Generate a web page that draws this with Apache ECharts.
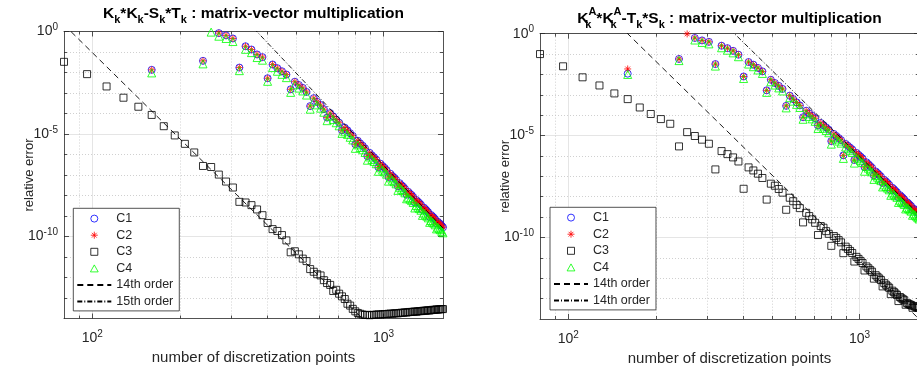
<!DOCTYPE html>
<html><head><meta charset="utf-8">
<script src="https://cdn.jsdelivr.net/npm/echarts@6/dist/echarts.min.js"></script>
<style>html,body{margin:0;padding:0;background:#fff}#c{width:917px;height:369px}</style>
</head><body><div id="c"></div>
<script>
// number of discretization points
const N = [80,96,112,128,144,160,176,192,208,224,240,256,272,288,304,320,336,352,368,384,400,416,432,448,464,480,496,512,528,544,560,576,592,608,624,640,656,672,688,704,720,736,752,768,784,800,816,832,848,864,880,896,912,928,944,960,976,992,1008,1024,1040,1056,1072,1088,1104,1120,1136,1152,1168,1184,1200,1216,1232,1248,1264,1280,1296,1312,1328,1344,1360,1376,1392,1408,1424,1440,1456,1472,1488,1504,1520,1536,1552,1568,1584,1600];

// values are log10(relative error)
const leftC1 = [null,null,null,null,null,-1.87,null,null,null,null,
 -1.43,null,-0.08,-0.19,-0.34,-1.76,-0.72,-0.88,-1.12,-1.25,
 -2.28,-1.61,-1.79,-1.94,-2.10,-2.82,-2.45,-2.61,-2.75,-2.95,
 -3.64,-3.25,-3.43,-3.59,-3.79,-4.20,-3.98,-4.14,-4.30,-4.45,
 -4.82,-4.69,-4.82,-4.96,-5.09,-5.50,-5.33,-5.46,-5.57,-5.70,
 -6.08,-5.92,-6.04,-6.14,-6.25,-6.62,-6.45,-6.56,-6.65,-6.76,
 -7.10,-6.94,-7.05,-7.13,-7.23,-7.55,-7.40,-7.50,-7.57,-7.67,
 -7.96,-7.82,-7.91,-7.98,-8.07,-8.34,-8.22,-8.30,-8.37,-8.45,
 -8.70,-8.59,-8.67,-8.74,-8.82,-9.04,-8.95,-9.02,-9.08,-9.16,
 -9.36,-9.28,-9.35,-9.40,-9.48,-9.55];
const leftC2 = [null,null,null,null,null,-1.87,null,null,null,null,
 -1.43,null,-0.08,-0.19,-0.34,-1.76,-0.72,-0.88,-1.12,-1.25,
 -2.28,-1.61,-1.79,-1.94,-2.10,-2.82,-2.45,-2.61,-2.75,-2.95,
 -3.64,-3.25,-3.43,-3.59,-3.79,-4.20,-3.98,-4.14,-4.30,-4.45,
 -4.82,-4.69,-4.82,-4.96,-5.09,-5.50,-5.33,-5.46,-5.57,-5.70,
 -6.08,-5.92,-6.04,-6.14,-6.25,-6.62,-6.45,-6.56,-6.65,-6.76,
 -7.10,-6.94,-7.05,-7.13,-7.23,-7.55,-7.40,-7.50,-7.57,-7.67,
 -7.96,-7.82,-7.91,-7.98,-8.07,-8.34,-8.22,-8.30,-8.37,-8.45,
 -8.70,-8.59,-8.67,-8.74,-8.82,-9.04,-8.95,-9.02,-9.08,-9.16,
 -9.36,-9.28,-9.35,-9.40,-9.48,-9.55];
const leftC3 = [-1.48,-2.08,-2.68,-3.23,-3.67,-4.07,-4.62,-5.07,-5.48,-5.90,
 -6.56,-6.61,-6.98,-7.32,-7.61,-8.31,-8.34,-8.47,-8.68,-8.96,
 -9.34,-9.64,-9.73,-9.93,-10.19,-10.77,-10.72,-10.87,-11.08,-11.20,
 -11.59,-11.72,-11.84,-11.90,-12.13,-12.27,-12.36,-12.66,-12.60,-12.79,
 -12.92,-13.05,-13.28,-13.37,-13.53,-13.65,-13.73,-13.77,-13.81,-13.83,
 -13.82,-13.84,-13.83,-13.82,-13.81,-13.80,-13.81,-13.79,-13.78,-13.79,
 -13.77,-13.76,-13.77,-13.75,-13.74,-13.75,-13.73,-13.72,-13.72,-13.70,
 -13.71,-13.69,-13.68,-13.68,-13.67,-13.66,-13.67,-13.65,-13.64,-13.64,
 -13.63,-13.62,-13.62,-13.61,-13.60,-13.61,-13.59,-13.58,-13.58,-13.57,
 -13.56,-13.57,-13.55,-13.55,-13.54,-13.54];
const leftC4 = [null,null,null,null,null,-2.02,null,null,null,null,
 -1.58,-0.03,-0.23,-0.34,-0.49,-1.91,-0.87,-1.03,-1.27,-1.40,
 -2.43,-1.76,-1.94,-2.09,-2.25,-2.97,-2.60,-2.76,-2.90,-3.10,
 -3.79,-3.40,-3.58,-3.74,-3.94,-4.35,-4.13,-4.29,-4.45,-4.60,
 -4.97,-4.89,-5.02,-5.16,-5.29,-5.70,-5.53,-5.66,-5.77,-5.90,
 -6.28,-6.12,-6.24,-6.34,-6.45,-6.82,-6.65,-6.76,-6.85,-6.96,
 -7.30,-7.14,-7.25,-7.33,-7.43,-7.75,-7.60,-7.70,-7.77,-7.87,
 -8.16,-8.09,-8.18,-8.25,-8.34,-8.61,-8.49,-8.57,-8.64,-8.72,
 -8.97,-8.86,-8.94,-9.01,-9.09,-9.31,-9.22,-9.29,-9.35,-9.43,
 -9.63,-9.55,-9.62,-9.67,-9.75,-9.82];

const rightC1 = [null,null,null,null,null,-1.96,null,null,null,null,
 -1.24,null,-0.21,-0.33,-0.40,-1.49,-0.59,-0.71,-0.84,-1.03,
 -2.10,-1.39,-1.52,-1.68,-1.85,-2.78,-2.26,-2.42,-2.56,-2.71,
 -3.54,-3.04,-3.21,-3.37,-3.52,-4.10,-3.78,-3.91,-4.03,-4.15,
 -4.50,-4.38,-4.49,-4.60,-4.71,-5.27,-4.92,-5.02,-5.12,-5.22,
 -5.97,-5.41,-5.50,-5.59,-5.68,-6.20,-5.85,-5.94,-6.03,-6.12,
 -6.55,-6.31,-6.40,-6.49,-6.58,-6.95,-6.76,-6.84,-6.92,-7.01,
 -7.32,-7.17,-7.25,-7.33,-7.41,-7.68,-7.56,-7.63,-7.71,-7.78,
 -8.03,-7.92,-7.99,-8.06,-8.13,-8.35,-8.27,-8.33,-8.40,-8.46,
 -8.66,-8.59,-8.65,-8.71,-8.78,-8.84];
const rightC2 = [null,null,null,null,null,-1.73,null,null,null,null,
 -1.24,-0.01,-0.21,-0.33,-0.40,-1.49,-0.59,-0.71,-0.84,-1.03,
 -2.10,-1.39,-1.52,-1.68,-1.85,-2.78,-2.26,-2.42,-2.56,-2.71,
 -3.54,-3.04,-3.21,-3.37,-3.52,-4.10,-3.78,-3.91,-4.03,-4.15,
 -4.50,-4.38,-4.49,-4.60,-4.71,-5.27,-4.92,-5.02,-5.12,-5.22,
 -5.97,-5.41,-5.50,-5.59,-5.68,-6.20,-5.85,-5.94,-6.03,-6.12,
 -6.55,-6.31,-6.40,-6.49,-6.58,-6.95,-6.76,-6.84,-6.92,-7.01,
 -7.32,-7.17,-7.25,-7.33,-7.41,-7.68,-7.56,-7.63,-7.71,-7.78,
 -8.03,-7.92,-7.99,-8.06,-8.13,-8.35,-8.27,-8.33,-8.40,-8.46,
 -8.66,-8.59,-8.65,-8.71,-8.78,-8.84];
const rightC3 = [-1.00,-1.60,-2.14,-2.54,-2.93,-3.21,-3.62,-3.94,-4.19,-4.42,
 -5.53,-4.83,-5.02,-5.20,-5.40,-6.66,-5.76,-5.91,-6.07,-6.27,
 -7.61,-6.56,-6.71,-6.87,-7.08,-8.14,-7.36,-7.46,-7.62,-7.80,
 -8.64,-8.05,-8.22,-8.40,-8.56,-9.26,-8.79,-8.95,-9.11,-9.28,
 -9.88,-9.44,-9.52,-9.69,-9.82,-10.41,-9.93,-10.02,-10.13,-10.24,
 -10.77,-10.45,-10.56,-10.66,-10.76,-11.18,-10.95,-11.05,-11.15,-11.25,
 -11.62,-11.42,-11.51,-11.60,-11.68,-12.02,-11.85,-11.93,-12.01,-12.09,
 -12.40,-12.24,-12.32,-12.40,-12.47,-12.78,-12.61,-12.68,-12.75,-12.82,
 -13.12,-12.92,-12.98,-13.03,-13.08,-13.30,-13.22,-13.26,-13.29,-13.32,
 -13.45,-13.36,-13.39,-13.42,-13.44,-13.46];
const rightC4 = [null,null,null,null,null,-2.00,null,null,null,null,
 -1.32,null,-0.31,-0.43,-0.50,-1.59,-0.69,-0.81,-0.94,-1.13,
 -2.20,-1.49,-1.62,-1.78,-1.95,-2.88,-2.36,-2.52,-2.66,-2.81,
 -3.64,-3.14,-3.31,-3.47,-3.62,-4.20,-3.93,-4.06,-4.18,-4.30,
 -4.65,-4.53,-4.64,-4.75,-4.86,-5.42,-5.07,-5.17,-5.27,-5.37,
 -6.12,-5.56,-5.65,-5.74,-5.83,-6.35,-6.05,-6.14,-6.23,-6.32,
 -6.75,-6.51,-6.60,-6.69,-6.78,-7.15,-6.96,-7.04,-7.12,-7.21,
 -7.52,-7.42,-7.50,-7.58,-7.66,-7.93,-7.81,-7.88,-7.96,-8.03,
 -8.28,-8.17,-8.24,-8.31,-8.38,-8.60,-8.52,-8.58,-8.65,-8.71,
 -8.91,-8.84,-8.90,-8.96,-9.03,-9.09];

// reference order lines: [N, log10(relative error)] end points
const leftOrder14 = [[80, 0.33], [850, -14.03]];
const leftOrder15 = [[340, 0.50], [1600, -9.59]];
const rightOrder14a = [[150, 0.39], [1600, -14.0]];
const rightOrder14b = [[340, 0.55], [1600, -8.87]];

// tick values
const xMajorTicks = [100, 1000];
const xMinorTicks = [90, 200, 300, 400, 500, 600, 700, 800, 900];
const yMajorTicks = [1, 1e-5, 1e-10];
const yMinorTicks = [1e-1,1e-2,1e-3,1e-4,1e-6,1e-7,1e-8,1e-9,1e-11,1e-12,1e-13];

const FF = '"Liberation Sans", Arial, Helvetica, sans-serif';
const AX = '#262626';

function pts(xs, ls) {
  const out = [];
  xs.forEach((x, i) => { if (ls[i] != null) out.push([x, Math.pow(10, ls[i])]); });
  return out;
}
function linePts(arr) { return arr.map(p => [p[0], Math.pow(10, p[1])]); }
function supLabel(v) { const e = Math.round(Math.log10(v)); return '{b|10}{s|' + e + '}'; }
const labelRich = {
  b: {fontSize: 14, fontFamily: FF, color: AX, lineHeight: 18, verticalAlign: 'middle'},
  s: {fontSize: 10, fontFamily: FF, color: AX, lineHeight: 10, verticalAlign: 'top'}
};
const lineS = {color: AX, width: 0.8};

function axesFor(g) {
  const xb = {gridIndex: g, type: 'log', logBase: 10, min: 80, max: 1600,
    axisLabel: {show: false}, axisTick: {show: false}, axisLine: {show: false},
    splitLine: {show: false}, minorTick: {show: false}, minorSplitLine: {show: false}};
  const yb = {gridIndex: g, type: 'log', logBase: 10, min: 1e-14, max: 1,
    axisLabel: {show: false}, axisTick: {show: false}, axisLine: {show: false},
    splitLine: {show: false}, minorTick: {show: false}, minorSplitLine: {show: false}};
  const x = [
    Object.assign({}, xb, {position: 'bottom',
      axisLine: {show: true, onZero: false, lineStyle: lineS},
      axisTick: {show: true, inside: true, length: 5, customValues: xMajorTicks, lineStyle: lineS},
      axisLabel: {show: true, customValues: xMajorTicks, margin: 11, formatter: supLabel, rich: labelRich},
      splitLine: {show: true, lineStyle: {color: '#dedede', width: 0.8}},
      name: 'number of discretization points', nameLocation: 'middle', nameGap: 32, nameMoveOverlap: false,
      nameTextStyle: {fontFamily: FF, fontSize: 15, color: AX}}),
    Object.assign({}, xb, {position: 'bottom',
      axisTick: {show: true, inside: true, length: 3, customValues: xMinorTicks, lineStyle: lineS},
      splitLine: {show: true, lineStyle: {color: '#c4c4c4', width: 0.8, type: [1, 2]}}}),
    Object.assign({}, xb, {position: 'top',
      axisLine: {show: true, onZero: false, lineStyle: lineS},
      axisTick: {show: true, inside: true, length: 5, customValues: xMajorTicks, lineStyle: lineS}}),
    Object.assign({}, xb, {position: 'top',
      axisTick: {show: true, inside: true, length: 3, customValues: xMinorTicks, lineStyle: lineS}})
  ];
  const y = [
    Object.assign({}, yb, {position: 'left',
      axisLine: {show: true, onZero: false, lineStyle: lineS},
      axisTick: {show: true, inside: true, length: 5, customValues: yMajorTicks, lineStyle: lineS},
      axisLabel: {show: true, customValues: yMajorTicks, margin: 6, formatter: supLabel, rich: labelRich},
      splitLine: {show: true, lineStyle: {color: '#dedede', width: 0.8}},
      name: 'relative error', nameLocation: 'middle', nameGap: 28, nameRotate: 90, nameMoveOverlap: false,
      nameTextStyle: {fontFamily: FF, fontSize: 13, color: AX}}),
    Object.assign({}, yb, {position: 'left',
      axisTick: {show: true, inside: true, length: 3, customValues: yMinorTicks, lineStyle: lineS},
      splitLine: {show: true, lineStyle: {color: '#c4c4c4', width: 0.8, type: [1, 2]}}}),
    Object.assign({}, yb, {position: 'right',
      axisLine: {show: true, onZero: false, lineStyle: lineS},
      axisTick: {show: true, inside: true, length: 5, customValues: yMajorTicks, lineStyle: lineS}}),
    Object.assign({}, yb, {position: 'right',
      axisTick: {show: true, inside: true, length: 3, customValues: yMinorTicks, lineStyle: lineS}})
  ];
  return {x, y};
}

const A0 = axesFor(0), A1 = axesFor(1);
const STAR = 'path://M5,0L5,10M0,5L10,5M1.6,1.6L8.4,8.4M1.6,8.4L8.4,1.6';
const SQUARE = 'path://M0,0L10,0L10,10L0,10Z';
const TRI = 'path://M5,0L10,9L0,9Z';
const hollow = c => ({color: 'rgba(0,0,0,0)', borderColor: c, borderWidth: 1});

function seriesFor(g, tag, c1, c2, c3, c4, l1, l2, n1, n2) {
  const ai = 4 * g;
  const base = {type: 'scatter', xAxisIndex: ai, yAxisIndex: ai, emphasis: {disabled: true}, clip: true};
  return [
    Object.assign({}, base, {name: 'C1|' + tag, symbol: 'circle', symbolSize: 7, itemStyle: hollow('#0000ff'), data: pts(N, c1)}),
    Object.assign({}, base, {name: 'C2|' + tag, symbol: STAR, symbolSize: 7, itemStyle: hollow('#ff0000'), data: pts(N, c2)}),
    Object.assign({}, base, {name: 'C3|' + tag, symbol: SQUARE, symbolSize: 7, itemStyle: hollow('#000000'), data: pts(N, c3)}),
    Object.assign({}, base, {name: 'C4|' + tag, symbol: TRI, symbolSize: 8, itemStyle: hollow('#00ff00'), data: pts(N, c4)}),
    {type: 'line', name: n1, xAxisIndex: ai, yAxisIndex: ai, symbol: 'none', clip: true, emphasis: {disabled: true},
      lineStyle: {color: '#000', width: 0.9, type: [6, 4]}, itemStyle: {color: 'rgba(0,0,0,0)', borderWidth: 0}, data: linePts(l1)},
    {type: 'line', name: n2, xAxisIndex: ai, yAxisIndex: ai, symbol: 'none', clip: true, emphasis: {disabled: true},
      lineStyle: {color: '#000', width: 0.9, type: [5, 2, 1, 2]}, itemStyle: {color: 'rgba(0,0,0,0)', borderWidth: 0}, data: linePts(l2)}
  ];
}

const noSym = {color: 'rgba(0,0,0,0)', borderColor: 'rgba(0,0,0,0)', borderWidth: 0};
function legendFor(left, top, names) {
  return {left, top, orient: 'vertical', selectedMode: false,
    data: names.map((n, i) => i < 4 ? {name: n} : {name: n, itemStyle: noSym}),
    formatter: n => n.split('|')[0],
    itemWidth: 34, itemHeight: 7, itemGap: 0, padding: [2, 6, 1, 3],
    borderColor: AX, borderWidth: 0.8, backgroundColor: '#ffffff',
    itemStyle: {borderWidth: 1},
    textStyle: {fontFamily: FF, fontSize: 12.5, color: AX, lineHeight: 16.6}};
}

const titleRich = {
  m: {fontSize: 15.5, fontWeight: 'bold', fontFamily: FF, color: '#000', lineHeight: 24, verticalAlign: 'middle'},
  sb: {fontSize: 11, fontWeight: 'bold', fontFamily: FF, color: '#000', lineHeight: 9, verticalAlign: 'bottom'},
  sbz: {fontSize: 11, fontWeight: 'bold', fontFamily: FF, color: '#000', lineHeight: 9, verticalAlign: 'bottom', width: 0.01},
  sp: {fontSize: 11, fontWeight: 'bold', fontFamily: FF, color: '#000', lineHeight: 9, verticalAlign: 'top'}
};

const chart = echarts.init(document.getElementById('c'), null, {renderer: 'canvas'});
chart.setOption({
  animation: false,
  backgroundColor: '#ffffff',
  grid: [
    {left: 64, top: 31.5, width: 379, height: 287, containLabel: false, outerBoundsMode: 'none'},
    {left: 540, top: 33.7, width: 379, height: 285.3, containLabel: false, outerBoundsMode: 'none'}
  ],
  xAxis: A0.x.concat(A1.x),
  yAxis: A0.y.concat(A1.y),
  legend: [
    legendFor(73.3, 208.3, ['C1|L', 'C2|L', 'C3|L', 'C4|L', '14th order|L', '15th order|L']),
    legendFor(550, 207.3, ['C1|R', 'C2|R', 'C3|R', 'C4|R', '14th order|R', '14th order|R2'])
  ],
  graphic: [
    {type: 'text', x: 253.5, y: 13.6, style: {text: '{m|K}{sb|k}{m|*K}{sb|k}{m|-S}{sb|k}{m|*T}{sb|k}{m| : matrix-vector multiplication}', rich: titleRich, align: 'center', verticalAlign: 'middle'}},
    {type: 'text', x: 729.5, y: 18.3, style: {text: '{m|K}{sbz|k}{sp|A}{m|*K}{sbz|k}{sp|A}{m|-T}{sb|k}{m|*S}{sb|k}{m| : matrix-vector multiplication}', rich: titleRich, align: 'center', verticalAlign: 'middle'}}
  ],
  series: seriesFor(0, 'L', leftC1, leftC2, leftC3, leftC4, leftOrder14, leftOrder15, '14th order|L', '15th order|L')
    .concat(seriesFor(1, 'R', rightC1, rightC2, rightC3, rightC4, rightOrder14a, rightOrder14b, '14th order|R', '14th order|R2'))
});
</script>
</body></html>
